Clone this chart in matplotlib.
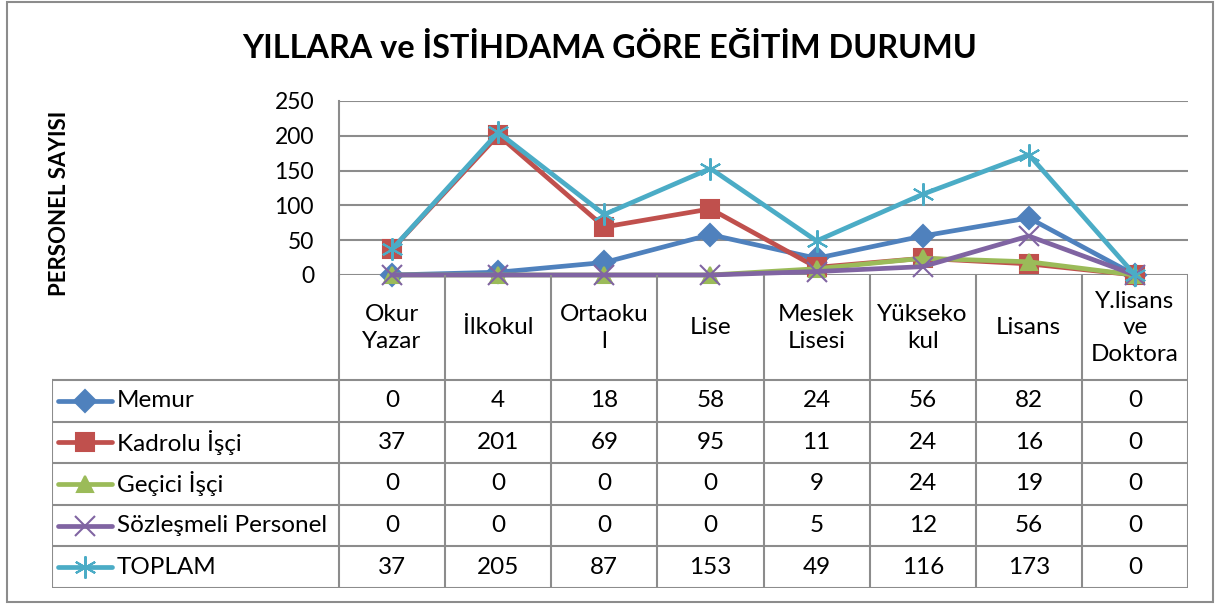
import matplotlib
matplotlib.use('Agg')
from matplotlib import pyplot as plt
from matplotlib.patches import Rectangle

plt.rcParams['font.family'] = ['Lato', 'DejaVu Sans']

categories = ['Okur\nYazar', 'İlkokul', 'Ortaoku\nl', 'Lise', 'Meslek\nLisesi',
              'Yükseko\nkul', 'Lisans', 'Y.lisans\nve\nDoktora']
series_names = ['Memur', 'Kadrolu İşçi', 'Geçici İşçi', 'Sözleşmeli Personel', 'TOPLAM']
memur = [0, 4, 18, 58, 24, 56, 82, 0]
kadrolu = [37, 201, 69, 95, 11, 24, 16, 0]
gecici = [0, 0, 0, 0, 9, 24, 19, 0]
sozlesmeli = [0, 0, 0, 0, 5, 12, 56, 0]
toplam = [37, 205, 87, 153, 49, 116, 173, 0]
yticks = [0, 50, 100, 150, 200, 250]

series = [memur, kadrolu, gecici, sozlesmeli, toplam]
colors = ['#4F81BD', '#C0504D', '#9BBB59', '#8064A2', '#4BACC6']
markers = ['D', 's', '^', 'x', (6, 2, 0)]
msizes = [11, 13, 12, 14, 16]

W, H = 1215, 604
GRID = '#8c8c8c'
FS = 17.5


def px_axes(fig, left, top, right, bottom):
    return fig.add_axes([left / W, 1 - bottom / H, (right - left) / W, (bottom - top) / H])


fig = plt.figure(figsize=(W / 100, H / 100), dpi=100)

# outer chart border
fig.patches.append(Rectangle((7 / W, 2 / H), 1206 / W, 600 / H, transform=fig.transFigure,
                             fill=False, edgecolor=GRID, lw=1.5))

fig.text(610 / W, 1 - 48 / H, 'YILLARA ve İSTİHDAMA GÖRE EĞİTİM DURUMU',
         ha='center', va='center', fontsize=23.3, fontweight='bold')
fig.text(60 / W, 1 - 203 / H, 'PERSONEL SAYISI', rotation=90,
         ha='center', va='center', fontsize=16, fontweight='bold')

# plot area
ax = px_axes(fig, 339, 101, 1188, 275)
x = list(range(len(categories)))
for vals, name, c, m, ms in zip(series, series_names, colors, markers, msizes):
    ax.plot(x, vals, color=c, lw=3.4, marker=m, markersize=ms, markeredgewidth=1.5,
            markerfacecolor=c, markeredgecolor=c, label=name, clip_on=False, zorder=3)
ax.set_xlim(-0.5, len(categories) - 0.5)
ax.set_ylim(0, 250)
ax.set_yticks(yticks)
ax.set_yticklabels([str(v) for v in yticks], fontsize=16.5)
ax.tick_params(axis='y', length=0, pad=18)
ax.set_xticks([])
ax.grid(axis='y', color=GRID, lw=1.5)
ax.set_axisbelow(True)
for s in ['top', 'right', 'bottom']:
    ax.spines[s].set_visible(False)
ax.spines['left'].set_color(GRID)
ax.spines['left'].set_linewidth(1.5)

# data table below
tab = px_axes(fig, 52, 275, 1188, 588)
left_x = -0.5 - (339 - 52) / 106.125
tab.set_xlim(left_x, len(categories) - 0.5)
tab.set_ylim(313, 0)
tab.axis('off')
row_edges = [105 + 41.6 * i for i in range(len(series) + 1)]

for i in range(len(categories) + 1):
    tab.plot([i - 0.5, i - 0.5], [0, 313], color=GRID, lw=1.5, solid_capstyle='projecting')
tab.plot([left_x, left_x], [105, 313], color=GRID, lw=1.5, solid_capstyle='projecting')
for y in row_edges:
    tab.plot([left_x, len(categories) - 0.5], [y, y], color=GRID, lw=1.5,
             solid_capstyle='projecting')

for i, cat in enumerate(categories):
    tab.text(i, 53, cat, ha='center', va='center', fontsize=FS, linespacing=1.35)

px = lambda p: -0.5 + (p - 339) / 106.125
for r, (vals, name, c, m, ms) in enumerate(zip(series, series_names, colors, markers, msizes)):
    yc = (row_edges[r] + row_edges[r + 1]) / 2
    tab.plot([px(58), px(112)], [yc, yc], color=c, lw=3.4, solid_capstyle='round')
    tab.plot([px(85)], [yc], marker=m, color=c, markersize=ms, markeredgewidth=1.5)
    tab.text(px(117), yc, name, ha='left', va='center', fontsize=FS)
    for i, v in enumerate(vals):
        tab.text(i, yc, str(v), ha='center', va='center', fontsize=FS)

fig.savefig('out.png', dpi=100)
